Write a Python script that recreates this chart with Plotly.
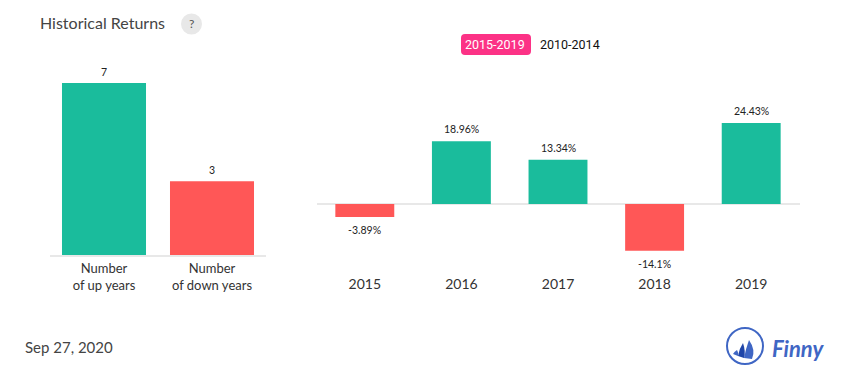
import plotly.graph_objects as go

W, H = 855, 382
GREEN, RED = "#1abc9c", "#ff5757"
BLUE = "#3f66c4"

count_labels = ["Number<br>of up years", "Number<br>of down years"]
count_values = [7, 3]
years = ["2015", "2016", "2017", "2018", "2019"]
returns = [-3.89, 18.96, 13.34, -14.1, 24.43]
return_labels = ["-3.89%", "18.96%", "13.34%", "-14.1%", "24.43%"]


def px_x(v):
    return v / W


def px_y(v):
    return 1 - v / H


fig = go.Figure()
fig.add_bar(
    x=count_labels, y=count_values, xaxis="x", yaxis="y",
    marker=dict(color=[GREEN, RED], line_width=0), width=0.778,
    cliponaxis=False, hoverinfo="skip",
)
fig.add_bar(
    x=years, y=returns, xaxis="x2", yaxis="y2",
    marker=dict(color=[GREEN if r >= 0 else RED for r in returns], line_width=0), width=0.61,
    cliponaxis=False, hoverinfo="skip",
)

# right-hand panel spans y = 100..274 px, zero at 204 px, 3.316 px per unit
r_top = (204 - 100) / 3.316
r_bot = (204 - 274) / 3.316

value_font = dict(family="Lato", size=10.5, color="#222222")
value_notes = [
    dict(x=i, y=v, xref="x", yref="y", text=str(v), showarrow=False, yanchor="bottom",
         yshift=3, font=value_font)
    for i, v in enumerate(count_values)
] + [
    dict(x=i, y=v, xref="x2", yref="y2", text=t, showarrow=False,
         yanchor="bottom" if v >= 0 else "top", yshift=4 if v >= 0 else -5, font=value_font)
    for i, (v, t) in enumerate(zip(returns, return_labels))
]

fig.update_layout(
    width=W, height=H, margin=dict(l=0, r=0, t=0, b=0),
    paper_bgcolor="white", plot_bgcolor="white", showlegend=False,
    font=dict(family="Lato", color="#333333"),
    xaxis=dict(domain=[px_x(50), px_x(266)], range=[-0.5, 1.5], anchor="y", type="category",
               showline=True, linecolor="#e8e8e8", linewidth=2, showgrid=False, ticks="",
               tickfont=dict(family="Lato", size=13, color="#333333"), fixedrange=True),
    yaxis=dict(domain=[px_y(255), px_y(60)], range=[0, 195 / 24.57], visible=False, fixedrange=True),
    xaxis2=dict(domain=[px_x(316.5), px_x(799.5)], range=[-0.5, 4.5], anchor="y2", type="category",
                showline=False, showgrid=False, ticks="", zeroline=False,
                tickfont=dict(family="Lato", size=14, color="#333333"), fixedrange=True),
    yaxis2=dict(domain=[px_y(274), px_y(100)], range=[r_bot, r_top], showgrid=False,
                showticklabels=False, ticks="", showline=False,
                zeroline=True, zerolinecolor="#e8e8e8", zerolinewidth=2, fixedrange=True),
    annotations=value_notes + [
        dict(text="Historical Returns", x=px_x(38), y=px_y(23), xref="paper", yref="paper",
             xanchor="left", yanchor="middle", showarrow=False,
             font=dict(family="Lato", size=16, color="#444444")),
        dict(text="?", x=px_x(191.5), y=px_y(24), xref="paper", yref="paper",
             xanchor="center", yanchor="middle", showarrow=False,
             font=dict(family="Lato", size=12, color="#555555")),
        dict(text="2015-2019", x=px_x(495.5), y=px_y(45), xref="paper", yref="paper",
             xanchor="center", yanchor="middle", showarrow=False,
             font=dict(family="Roboto", size=12.5, color="white")),
        dict(text="2010-2014", x=px_x(570), y=px_y(45), xref="paper", yref="paper",
             xanchor="center", yanchor="middle", showarrow=False,
             font=dict(family="Roboto", size=12.5, color="#111111")),
        dict(text="Sep 27, 2020", x=px_x(23), y=px_y(347), xref="paper", yref="paper",
             xanchor="left", yanchor="middle", showarrow=False,
             font=dict(family="Lato", size=15, color="#444444")),
        dict(text="<b><i>Finny</i></b>", x=px_x(770), y=px_y(348), xref="paper", yref="paper",
             xanchor="left", yanchor="middle", showarrow=False,
             font=dict(family="Lato", size=22, color=BLUE)),
    ],
    shapes=[
        dict(type="circle", xref="paper", yref="paper",
             x0=px_x(181), x1=px_x(202), y0=px_y(34.5), y1=px_y(13.5),
             fillcolor="#e8e8e8", line_width=0, layer="below"),
        dict(type="path", xref="paper", yref="paper",
             path=f"M {px_x(465)} {px_y(34)} L {px_x(527)} {px_y(34)} Q {px_x(531)} {px_y(34)} {px_x(531)} {px_y(38)} "
                  f"L {px_x(531)} {px_y(51)} Q {px_x(531)} {px_y(55)} {px_x(527)} {px_y(55)} "
                  f"L {px_x(465)} {px_y(55)} Q {px_x(461)} {px_y(55)} {px_x(461)} {px_y(51)} "
                  f"L {px_x(461)} {px_y(38)} Q {px_x(461)} {px_y(34)} {px_x(465)} {px_y(34)} Z",
             fillcolor="#fc3286", line_width=0, layer="below"),
        dict(type="circle", xref="paper", yref="paper",
             x0=px_x(727), x1=px_x(763), y0=px_y(364), y1=px_y(328),
             fillcolor="rgba(0,0,0,0)", line=dict(color=BLUE, width=2)),
        dict(type="path", xref="paper", yref="paper",
             path=f"M {px_x(749)} {px_y(340)} Q {px_x(756)} {px_y(350)} {px_x(752)} {px_y(359)} L {px_x(744)} {px_y(358)} Q {px_x(746)} {px_y(348)} {px_x(749)} {px_y(340)} Z",
             fillcolor=BLUE, line_width=0),
        dict(type="path", xref="paper", yref="paper",
             path=f"M {px_x(743)} {px_y(343)} Q {px_x(746)} {px_y(352)} {px_x(744)} {px_y(358)} L {px_x(738)} {px_y(356)} Q {px_x(739)} {px_y(349)} {px_x(743)} {px_y(343)} Z",
             fillcolor="#1f45a8", line_width=0),
        dict(type="path", xref="paper", yref="paper",
             path=f"M {px_x(737)} {px_y(350)} Q {px_x(739)} {px_y(353)} {px_x(738)} {px_y(356)} L {px_x(733)} {px_y(354)} Q {px_x(734)} {px_y(352)} {px_x(737)} {px_y(350)} Z",
             fillcolor=BLUE, line_width=0),
    ],
)

fig.write_html("out.html", config=dict(displayModeBar=False),
               post_script="document.body.style.margin='0';document.body.style.overflow='hidden';")
